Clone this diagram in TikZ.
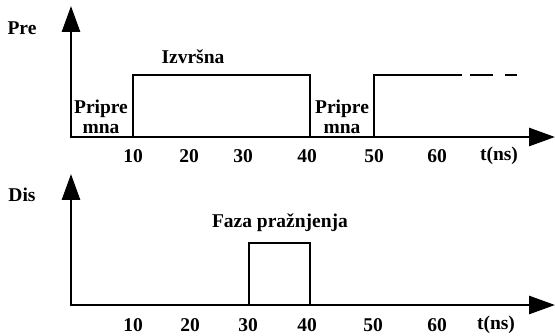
\documentclass[tikz,border=0pt]{standalone}
\usepackage{fontspec}
\setmainfont{Liberation Serif}
\usetikzlibrary{arrows.meta}
\tikzset{
  axis/.style={line width=2.8pt, -{Triangle[width=18pt,length=26pt]}},
  signal/.style={line width=2.8pt, line cap=butt, line join=miter},
  lbl/.style={font=\fontsize{19.5}{20}\selectfont\bfseries, inner sep=0pt, align=center},
  tick/.style={lbl},
}
\begin{document}
\begin{tikzpicture}[x=1pt,y=-1pt]
\useasboundingbox (0,0) rectangle (555,336);

% ---- Pre (precharge) timing ----
\coordinate (o1) at (71,137);
\coordinate (y1) at (71,6);
\coordinate (x1) at (555,137);
\draw[axis] (o1 |- 0,138.4) -- (y1);
\draw[axis] (o1) -- (x1);
\coordinate (a1) at (133,137);
\coordinate (a2) at (133,75);
\coordinate (a3) at (310,75);
\coordinate (a4) at (310,137);
\coordinate (b1) at (374,137);
\coordinate (b2) at (374,75);
\coordinate (b3) at (462,75);
\coordinate (c1) at (470,75);
\coordinate (c2) at (493,75);
\coordinate (d1) at (505,75);
\coordinate (d2) at (517,75);
\draw[signal] (a1) -- (a2) -- (a3) -- (a4);
\draw[signal] (b1) -- (b2) -- (b3);
\draw[signal] (c1) -- (c2);
\draw[signal] (d1) -- (d2);

\node[lbl] (pre) at (22,28) {Pre};
\node[lbl] (izv) at (193,57) {Izvršna};
\node[lbl] (prip1) at (101,117) {Pripre\\mna};
\node[lbl] (prip2) at (342,117) {Pripre\\mna};
\foreach \v/\x in {10/133,20/189,30/243,40/307,50/374,60/437}
  \node[tick] (t1-\v) at (\x,156) {\v};
\node[tick] (t1-ns) at (499,156) {t(ns)};

% ---- Dis (discharge) timing ----
\coordinate (o2) at (71,305);
\coordinate (y2) at (71,174);
\coordinate (x2) at (555,305);
\draw[axis] (o2 |- 0,306.4) -- (y2);
\draw[axis] (o2) -- (x2);
\coordinate (e1) at (249,305);
\coordinate (e2) at (249,243);
\coordinate (e3) at (310,243);
\coordinate (e4) at (310,305);
\draw[signal] (e1) -- (e2) -- (e3) -- (e4);

\node[lbl] (dis) at (22,195) {Dis};
\node[lbl] (faza) at (280,223) {Faza pražnjenja};
\foreach \v/\x in {10/133,20/190,30/248,40/307,50/373,60/437}
  \node[tick] (t2-\v) at (\x,325) {\v};
\node[tick] (t2-ns) at (496,325) {t(ns)};
\end{tikzpicture}
\end{document}
